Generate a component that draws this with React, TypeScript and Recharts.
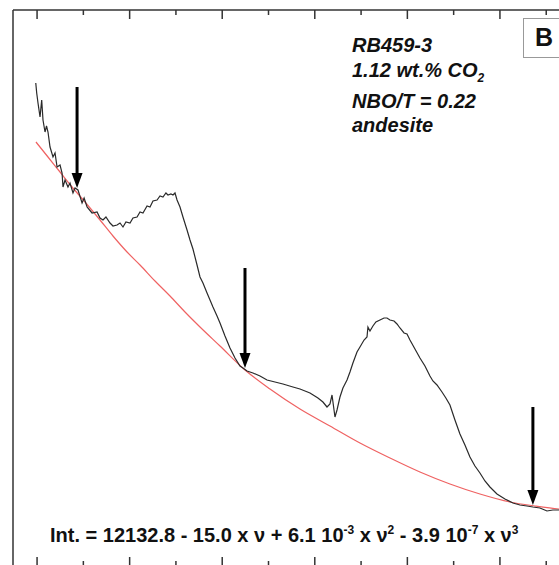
import React from "react";
import { LineChart, Line, XAxis, YAxis, ReferenceLine, ReferenceDot } from "recharts";

const W = 590;
const H = 580;
const FRAME = "#333";
const FONT = "'Liberation Sans', Arial, sans-serif";

// wavenumber (cm-1) and intensity
const specNu = [
  1700.7, 1700.2, 1699.5, 1698.4, 1697.5, 1696.8, 1695.7, 1694.9, 1694.1, 1693.0, 1691.4, 1690.3, 1689.2, 1687.6,
  1686.5, 1686.0, 1684.9, 1683.3, 1682.2, 1680.6, 1679.5, 1677.9, 1675.7, 1674.6, 1673.0, 1670.3, 1667.6, 1666.0,
  1664.4, 1662.8, 1660.6, 1659.0, 1656.8, 1655.2, 1653.6, 1652.0, 1649.8, 1648.2, 1646.0, 1644.4, 1642.8, 1640.6,
  1639.0, 1637.4, 1635.2, 1633.6, 1632.0, 1630.4, 1629.3, 1627.7, 1626.6, 1625.5, 1624.4, 1622.8, 1621.2, 1619.0,
  1617.4, 1615.8, 1613.6, 1612.0, 1610.4, 1608.2, 1606.6, 1605.0, 1602.8, 1601.2, 1598.5, 1595.8, 1593.1, 1590.4,
  1588.8, 1586.6, 1583.4, 1579.6, 1575.8, 1571.5, 1567.2, 1561.8, 1558.0, 1552.6, 1548.3, 1545.6, 1543.4, 1541.8,
  1540.7, 1539.1, 1538.0, 1536.4, 1534.8, 1532.6, 1531.0, 1529.4, 1527.2, 1525.6, 1523.4, 1521.8, 1521.3, 1520.2,
  1518.6, 1517.0, 1514.8, 1512.6, 1511.0, 1509.4, 1507.2, 1505.6, 1504.0, 1501.8, 1500.2, 1498.6, 1495.9, 1493.2,
  1490.5, 1487.8, 1486.2, 1484.0, 1481.3, 1479.2, 1477.0, 1474.3, 1471.6, 1468.9, 1466.2, 1463.5, 1460.8, 1458.1,
  1455.4, 1451.6, 1447.3, 1443.0, 1439.2, 1435.4, 1432.2, 1428.4, 1424.6, 1421.4, 1418.1, 1409.5,
];
const specInt = [
  2415, 2365, 2315, 2245, 2330, 2230, 2170, 2200, 2170, 2095, 2045, 2065, 1995, 2005,
  1965, 1895, 1930, 1895, 1915, 1865, 1890, 1880, 1815, 1840, 1795, 1765, 1770, 1740,
  1730, 1745, 1715, 1700, 1705, 1715, 1695, 1720, 1715, 1740, 1745, 1770, 1765, 1800,
  1795, 1825, 1830, 1850, 1845, 1865, 1855, 1860, 1855, 1865, 1830, 1795, 1745, 1680,
  1630, 1585, 1505, 1445, 1415, 1365, 1330, 1295, 1250, 1215, 1150, 1090, 1040, 1000,
  990, 975, 965, 950, 930, 920, 910, 895, 885, 865, 840, 820, 795, 810,
  855, 745, 780, 845, 890, 930, 970, 1015, 1070, 1095, 1130, 1145, 1195, 1175,
  1200, 1220, 1230, 1240, 1240, 1230, 1225, 1210, 1190, 1165, 1160, 1130, 1085, 1040,
  1000, 950, 925, 905, 870, 840, 805, 730, 660, 605, 545, 500, 465, 425,
  395, 360, 335, 315, 305, 300, 295, 290, 275, 280, 280, 275,
];

// polynomial baseline (red)
const baseNu = [
  1700.6, 1694.1, 1687.6, 1681.1, 1674.1, 1666.0, 1659.0, 1651.4, 1644.4, 1636.3, 1628.2, 1620.1, 1612.0,
  1601.2, 1587.7, 1574.2, 1558.0, 1541.8, 1525.6, 1509.4, 1493.2, 1477.0, 1460.8, 1444.6, 1431.1, 1418.1, 1409.5,
];
const baseInt = [
  2120, 2045, 1970, 1895, 1820, 1730, 1650, 1570, 1505, 1425, 1350, 1270, 1195,
  1100, 980, 885, 785, 700, 615, 540, 470, 410, 360, 320, 300, 285, 280,
];

// anchor arrows: position, top of shaft, tip
const arrowNu = [1678.4, 1587.7, 1432.2];
const arrowTop = [2395, 1490, 795];
const arrowTip = [1890, 990, 305];

const TICKS = [1700, 1675, 1650, 1625, 1600, 1575, 1550, 1525, 1500, 1475, 1450, 1425];

const spectrum = specNu.map((nu, i) => ({ nu, v: specInt[i] }));
const baseline = baseNu.map((nu, i) => ({ nu, v: baseInt[i] }));

function TopTick(props: any) {
  const { x, y, payload } = props;
  const len = payload.value % 50 === 0 ? 9 : 5;
  return <line x1={x} x2={x} y1={y} y2={y + len} stroke={FRAME} strokeWidth={1.5} />;
}

function BottomTick(props: any) {
  const { x, y, payload } = props;
  const len = payload.value % 50 === 0 ? 9 : 5;
  return <line x1={x} x2={x} y1={y} y2={y - len} stroke={FRAME} strokeWidth={1.5} />;
}

const Head = (p: any) => (
  <polygon points={`${p.cx},${p.cy} ${p.cx - 5.5},${p.cy - 15} ${p.cx + 5.5},${p.cy - 15}`} fill="#000" />
);

const note: React.CSSProperties = { position: "absolute", font: `italic bold 20px ${FONT}`, lineHeight: 1, color: "#111", whiteSpace: "nowrap" };
const sup: React.CSSProperties = { fontSize: 12, position: "relative", top: -8 };

export default function App() {
  return (
    <div style={{ position: "fixed", left: 0, top: 0, width: 559, height: 565, overflow: "hidden", background: "#fff" }}>
      <LineChart width={W} height={H} margin={{ top: 9, right: 15, bottom: 13, left: 12 }}>
        <XAxis xAxisId="b" type="number" dataKey="nu" domain={[1410, 1713]} reversed allowDataOverflow ticks={TICKS} interval={0}
          height={1} tickSize={0} tickMargin={0} tickLine={false} tick={<BottomTick />} axisLine={{ stroke: FRAME, strokeWidth: 1.5 }} />
        <XAxis xAxisId="t" orientation="top" type="number" dataKey="nu" domain={[1410, 1713]} reversed allowDataOverflow ticks={TICKS} interval={0}
          height={1} tickSize={0} tickMargin={0} tickLine={false} tick={<TopTick />} axisLine={{ stroke: FRAME, strokeWidth: 1.5 }} />
        <YAxis type="number" domain={[0, 2780]} allowDataOverflow width={1} tick={false} tickLine={false} axisLine={{ stroke: FRAME, strokeWidth: 1.5 }} />
        <YAxis yAxisId="r" orientation="right" type="number" domain={[0, 2780]} width={1} tick={false} tickLine={false} axisLine={{ stroke: FRAME, strokeWidth: 1.5 }} />
        <Line xAxisId="b" data={baseline} dataKey="v" type="monotone" stroke="#ef6262" strokeWidth={1.2} dot={false} isAnimationActive={false} />
        <Line xAxisId="b" data={spectrum} dataKey="v" type="linear" stroke="#2a2a2a" strokeWidth={1.2} dot={false} isAnimationActive={false} />
        {arrowNu.map((nu, i) => (
          <ReferenceLine key={`s${i}`} xAxisId="b" segment={[{ x: nu, y: arrowTop[i] }, { x: nu, y: arrowTip[i] + 55 }]} stroke="#000" strokeWidth={3} />
        ))}
        {arrowNu.map((nu, i) => (
          <ReferenceDot key={`h${i}`} xAxisId="b" x={nu} y={arrowTip[i]} r={1} shape={Head} />
        ))}
      </LineChart>

      <div style={{ ...note, left: 352, top: 35 }}>RB459-3</div>
      <div style={{ ...note, left: 352, top: 60 }}>
        1.12 wt.% CO<span style={{ fontSize: 12, position: "relative", top: 5 }}>2</span>
      </div>
      <div style={{ ...note, left: 352, top: 91 }}>NBO/T = 0.22</div>
      <div style={{ ...note, left: 352, top: 115 }}>andesite</div>

      <div style={{ position: "absolute", left: 523, top: 18, width: 60, height: 38, border: "1px solid #999", background: "#fff" }} />
      <div style={{ position: "absolute", left: 535, top: 25, font: `bold 25px ${FONT}`, lineHeight: 1, color: "#111" }}>B</div>

      <div style={{ position: "absolute", left: 50, top: 525, font: `bold 20px ${FONT}`, lineHeight: 1, color: "#111", whiteSpace: "nowrap" }}>
        Int. = 12132.8 - 15.0 x ν + 6.1 10<span style={sup}>-3</span> x ν<span style={sup}>2</span> - 3.9 10<span style={sup}>-7</span> x ν<span style={sup}>3</span>
      </div>
    </div>
  );
}
